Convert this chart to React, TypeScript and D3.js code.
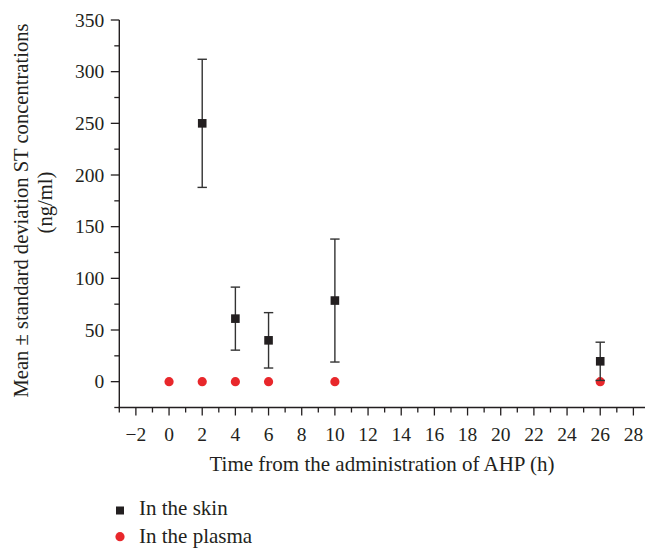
import React from "react";
import * as d3 from "d3";

const skinTimes = [2, 4, 6, 10, 26];
const skinMeans = [250, 61, 40, 78.5, 19.7];
const skinSD = [62, 30.5, 26.8, 59.5, 18.5];
const plasmaTimes = [0, 2, 4, 6, 10, 26];
const plasmaMeans = [0, 0, 0, 0, 0, 0];
const xMajorTicks = [-2, 0, 2, 4, 6, 8, 10, 12, 14, 16, 18, 20, 22, 24, 26, 28];
const xMinorTicks = [-3, -1, 1, 3, 5, 7, 9, 11, 13, 15, 17, 19, 21, 23, 25, 27];
const yMajorTicks = [0, 50, 100, 150, 200, 250, 300, 350];
const yMinorTicks = [-25, 25, 75, 125, 175, 225, 275, 325];
const legendLabels = ["In the skin", "In the plasma"];
const xTitle = "Time from the administration of AHP (h)";
const yTitle1 = "Mean \u00b1 standard deviation ST concentrations";
const yTitle2 = "(ng/ml)";

const FONT = "'Liberation Serif', 'Times New Roman', serif";
const INK = "#231f20";
const RED = "#e8272b";

export default function App() {
  const x = d3.scaleLinear().domain([-3, 28.7]).range([119.3, 645]);
  const y = d3.scaleLinear().domain([-25, 350]).range([407.5, 20]);
  const x0 = x(-3);
  const yBase = y(-25);
  const fmt = (v: number) => (v < 0 ? "\u2212" + Math.abs(v) : String(v));

  return (
    <svg
      width={645}
      height={548}
      style={{ position: "absolute", left: 0, top: 0, background: "#fff" }}
      fontFamily={FONT}
    >
      {/* Y axis */}
      <line x1={x0} x2={x0} y1={y(350)} y2={yBase + 0.7} stroke={INK} strokeWidth={1.4} />
      {yMajorTicks.map((t) => (
        <g key={"ym" + t}>
          <line x1={x0 - 8.5} x2={x0} y1={y(t)} y2={y(t)} stroke={INK} strokeWidth={1.3} />
          <text x={x0 - 15} y={y(t)} dy="0.35em" textAnchor="end" fontSize={19.5} fill={INK}>
            {fmt(t)}
          </text>
        </g>
      ))}
      {yMinorTicks.map((t) => (
        <line key={"yn" + t} x1={x0 - 5} x2={x0} y1={y(t)} y2={y(t)} stroke={INK} strokeWidth={1.3} />
      ))}

      {/* X axis */}
      <line x1={x0 - 0.7} x2={645} y1={yBase} y2={yBase} stroke={INK} strokeWidth={1.4} />
      {xMajorTicks.map((t) => (
        <g key={"xm" + t}>
          <line x1={x(t)} x2={x(t)} y1={yBase} y2={yBase + 8} stroke={INK} strokeWidth={1.3} />
          <text x={x(t)} y={yBase + 33} textAnchor="middle" fontSize={19.5} fill={INK}>
            {fmt(t)}
          </text>
        </g>
      ))}
      {xMinorTicks.map((t) => (
        <line key={"xn" + t} x1={x(t)} x2={x(t)} y1={yBase} y2={yBase + 5} stroke={INK} strokeWidth={1.3} />
      ))}

      {/* Axis titles */}
      <text x={382} y={471} textAnchor="middle" fontSize={21} fill={INK}>
        {xTitle}
      </text>
      <text transform="translate(28,210.5) rotate(-90)" textAnchor="middle" fontSize={20.6} fill={INK}>
        {yTitle1}
      </text>
      <text transform="translate(52,202.5) rotate(-90)" textAnchor="middle" fontSize={20.6} fill={INK}>
        {yTitle2}
      </text>

      {/* Plasma points */}
      {plasmaTimes.map((t, i) => (
        <circle key={"p" + i} cx={x(t)} cy={y(plasmaMeans[i])} r={4.6} fill={RED} />
      ))}

      {/* Skin error bars and points */}
      {skinTimes.map((t, i) => {
        const cx = x(t);
        const hi = y(skinMeans[i] + skinSD[i]);
        const lo = y(skinMeans[i] - skinSD[i]);
        return (
          <g key={"s" + i}>
            <line x1={cx} x2={cx} y1={hi} y2={lo} stroke="#333" strokeWidth={1.4} />
            <line x1={cx - 4.7} x2={cx + 4.7} y1={hi} y2={hi} stroke="#333" strokeWidth={1.4} />
            <line x1={cx - 4.7} x2={cx + 4.7} y1={lo} y2={lo} stroke="#333" strokeWidth={1.4} />
            <rect x={cx - 4.3} y={y(skinMeans[i]) - 4.3} width={8.6} height={8.6} fill={INK} />
          </g>
        );
      })}

      {/* Legend */}
      <rect x={116} y={506.5} width={8} height={8} fill={INK} />
      <text x={139} y={515} fontSize={21} fill={INK}>
        {legendLabels[0]}
      </text>
      <circle cx={120} cy={536.7} r={4.6} fill={RED} />
      <text x={139} y={543} fontSize={21} fill={INK}>
        {legendLabels[1]}
      </text>
    </svg>
  );
}
